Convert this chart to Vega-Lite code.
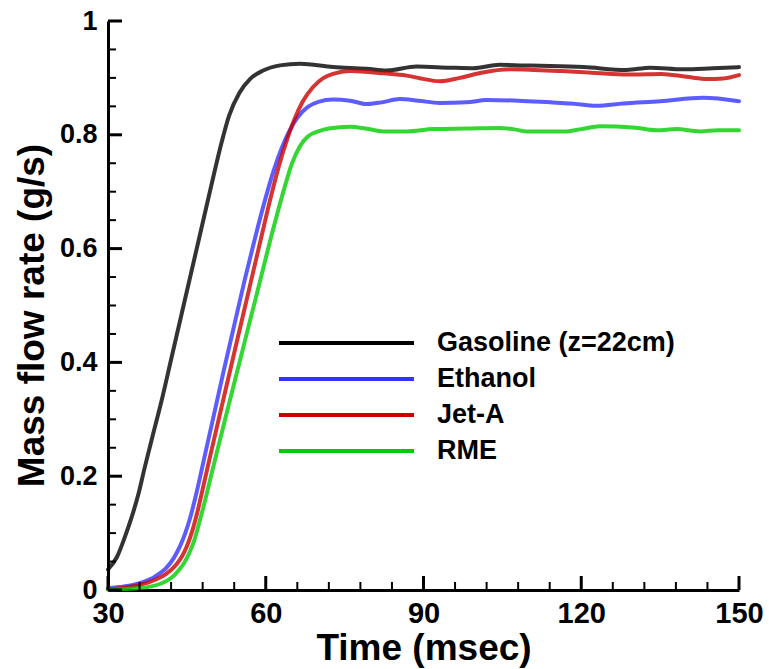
{
  "$schema": "https://vega.github.io/schema/vega-lite/v6.json",
  "width": 631,
  "height": 569,
  "autosize": {"type": "none"},
  "padding": {"left": 108, "top": 21, "right": 30, "bottom": 79},
  "background": "white",
  "config": {
    "view": {"stroke": null},
    "font": "Liberation Sans",
    "axis": {"grid": false, "labelFlush": false, "labelOverlap": false, "labelBound": false}
  },
  "datasets": {
    "flow": [
      {"fuel": "Gasoline (z=22cm)", "time": 30, "rate": 0.036},
      {"fuel": "Gasoline (z=22cm)", "time": 31.7, "rate": 0.058},
      {"fuel": "Gasoline (z=22cm)", "time": 33.2, "rate": 0.093},
      {"fuel": "Gasoline (z=22cm)", "time": 34.5, "rate": 0.128},
      {"fuel": "Gasoline (z=22cm)", "time": 35.8, "rate": 0.169},
      {"fuel": "Gasoline (z=22cm)", "time": 37.0, "rate": 0.216},
      {"fuel": "Gasoline (z=22cm)", "time": 38.6, "rate": 0.275},
      {"fuel": "Gasoline (z=22cm)", "time": 40.2, "rate": 0.333},
      {"fuel": "Gasoline (z=22cm)", "time": 42.0, "rate": 0.405},
      {"fuel": "Gasoline (z=22cm)", "time": 44.0, "rate": 0.485},
      {"fuel": "Gasoline (z=22cm)", "time": 46.0, "rate": 0.565},
      {"fuel": "Gasoline (z=22cm)", "time": 48.0, "rate": 0.645},
      {"fuel": "Gasoline (z=22cm)", "time": 50.0, "rate": 0.725},
      {"fuel": "Gasoline (z=22cm)", "time": 51.5, "rate": 0.783},
      {"fuel": "Gasoline (z=22cm)", "time": 53.0, "rate": 0.833},
      {"fuel": "Gasoline (z=22cm)", "time": 55.0, "rate": 0.874},
      {"fuel": "Gasoline (z=22cm)", "time": 57.0, "rate": 0.898},
      {"fuel": "Gasoline (z=22cm)", "time": 59.5, "rate": 0.913},
      {"fuel": "Gasoline (z=22cm)", "time": 62.7, "rate": 0.922},
      {"fuel": "Gasoline (z=22cm)", "time": 66.5, "rate": 0.925},
      {"fuel": "Gasoline (z=22cm)", "time": 72.8, "rate": 0.919},
      {"fuel": "Gasoline (z=22cm)", "time": 79.2, "rate": 0.916},
      {"fuel": "Gasoline (z=22cm)", "time": 83.0, "rate": 0.913},
      {"fuel": "Gasoline (z=22cm)", "time": 88.7, "rate": 0.920},
      {"fuel": "Gasoline (z=22cm)", "time": 95.0, "rate": 0.918},
      {"fuel": "Gasoline (z=22cm)", "time": 99.4, "rate": 0.917},
      {"fuel": "Gasoline (z=22cm)", "time": 104.5, "rate": 0.923},
      {"fuel": "Gasoline (z=22cm)", "time": 109.0, "rate": 0.922},
      {"fuel": "Gasoline (z=22cm)", "time": 114.1, "rate": 0.921},
      {"fuel": "Gasoline (z=22cm)", "time": 120.4, "rate": 0.919},
      {"fuel": "Gasoline (z=22cm)", "time": 128.6, "rate": 0.914},
      {"fuel": "Gasoline (z=22cm)", "time": 133.1, "rate": 0.918},
      {"fuel": "Gasoline (z=22cm)", "time": 139.4, "rate": 0.915},
      {"fuel": "Gasoline (z=22cm)", "time": 145.0, "rate": 0.917},
      {"fuel": "Gasoline (z=22cm)", "time": 150, "rate": 0.919},

      {"fuel": "Ethanol", "time": 30, "rate": 0.003},
      {"fuel": "Ethanol", "time": 33.0, "rate": 0.006},
      {"fuel": "Ethanol", "time": 36.0, "rate": 0.012},
      {"fuel": "Ethanol", "time": 39.0, "rate": 0.024},
      {"fuel": "Ethanol", "time": 41.0, "rate": 0.038},
      {"fuel": "Ethanol", "time": 42.5, "rate": 0.056},
      {"fuel": "Ethanol", "time": 43.7, "rate": 0.077},
      {"fuel": "Ethanol", "time": 44.7, "rate": 0.100},
      {"fuel": "Ethanol", "time": 45.6, "rate": 0.126},
      {"fuel": "Ethanol", "time": 46.5, "rate": 0.158},
      {"fuel": "Ethanol", "time": 47.4, "rate": 0.194},
      {"fuel": "Ethanol", "time": 48.5, "rate": 0.240},
      {"fuel": "Ethanol", "time": 50.0, "rate": 0.302},
      {"fuel": "Ethanol", "time": 52.0, "rate": 0.385},
      {"fuel": "Ethanol", "time": 54.0, "rate": 0.465},
      {"fuel": "Ethanol", "time": 56.0, "rate": 0.545},
      {"fuel": "Ethanol", "time": 58.0, "rate": 0.620},
      {"fuel": "Ethanol", "time": 60.0, "rate": 0.690},
      {"fuel": "Ethanol", "time": 61.5, "rate": 0.737},
      {"fuel": "Ethanol", "time": 63.0, "rate": 0.776},
      {"fuel": "Ethanol", "time": 64.5, "rate": 0.807},
      {"fuel": "Ethanol", "time": 66.0, "rate": 0.830},
      {"fuel": "Ethanol", "time": 68.0, "rate": 0.849},
      {"fuel": "Ethanol", "time": 70.0, "rate": 0.858},
      {"fuel": "Ethanol", "time": 72.8, "rate": 0.862},
      {"fuel": "Ethanol", "time": 76.0, "rate": 0.860},
      {"fuel": "Ethanol", "time": 79.2, "rate": 0.854},
      {"fuel": "Ethanol", "time": 82.0, "rate": 0.857},
      {"fuel": "Ethanol", "time": 85.5, "rate": 0.863},
      {"fuel": "Ethanol", "time": 89.0, "rate": 0.860},
      {"fuel": "Ethanol", "time": 93.1, "rate": 0.856},
      {"fuel": "Ethanol", "time": 98.2, "rate": 0.857},
      {"fuel": "Ethanol", "time": 102.0, "rate": 0.861},
      {"fuel": "Ethanol", "time": 108.0, "rate": 0.860},
      {"fuel": "Ethanol", "time": 114.1, "rate": 0.857},
      {"fuel": "Ethanol", "time": 118.0, "rate": 0.855},
      {"fuel": "Ethanol", "time": 122.9, "rate": 0.851},
      {"fuel": "Ethanol", "time": 128.0, "rate": 0.855},
      {"fuel": "Ethanol", "time": 135.0, "rate": 0.859},
      {"fuel": "Ethanol", "time": 143.2, "rate": 0.865},
      {"fuel": "Ethanol", "time": 150, "rate": 0.859},

      {"fuel": "Jet-A", "time": 30, "rate": 0.001},
      {"fuel": "Jet-A", "time": 33.0, "rate": 0.004},
      {"fuel": "Jet-A", "time": 36.0, "rate": 0.009},
      {"fuel": "Jet-A", "time": 39.0, "rate": 0.018},
      {"fuel": "Jet-A", "time": 41.0, "rate": 0.028},
      {"fuel": "Jet-A", "time": 43.0, "rate": 0.045},
      {"fuel": "Jet-A", "time": 44.0, "rate": 0.058},
      {"fuel": "Jet-A", "time": 45.0, "rate": 0.077},
      {"fuel": "Jet-A", "time": 46.0, "rate": 0.103},
      {"fuel": "Jet-A", "time": 47.0, "rate": 0.137},
      {"fuel": "Jet-A", "time": 48.0, "rate": 0.177},
      {"fuel": "Jet-A", "time": 49.0, "rate": 0.218},
      {"fuel": "Jet-A", "time": 51.0, "rate": 0.298},
      {"fuel": "Jet-A", "time": 53.0, "rate": 0.377},
      {"fuel": "Jet-A", "time": 55.0, "rate": 0.456},
      {"fuel": "Jet-A", "time": 57.0, "rate": 0.535},
      {"fuel": "Jet-A", "time": 59.0, "rate": 0.614},
      {"fuel": "Jet-A", "time": 61.0, "rate": 0.692},
      {"fuel": "Jet-A", "time": 62.5, "rate": 0.745},
      {"fuel": "Jet-A", "time": 64.0, "rate": 0.790},
      {"fuel": "Jet-A", "time": 65.5, "rate": 0.828},
      {"fuel": "Jet-A", "time": 67.0, "rate": 0.858},
      {"fuel": "Jet-A", "time": 69.0, "rate": 0.884},
      {"fuel": "Jet-A", "time": 71.0, "rate": 0.900},
      {"fuel": "Jet-A", "time": 72.8, "rate": 0.907},
      {"fuel": "Jet-A", "time": 76.0, "rate": 0.912},
      {"fuel": "Jet-A", "time": 82.4, "rate": 0.908},
      {"fuel": "Jet-A", "time": 86.8, "rate": 0.904},
      {"fuel": "Jet-A", "time": 89.5, "rate": 0.899},
      {"fuel": "Jet-A", "time": 93.1, "rate": 0.894},
      {"fuel": "Jet-A", "time": 96.9, "rate": 0.900},
      {"fuel": "Jet-A", "time": 101.0, "rate": 0.909},
      {"fuel": "Jet-A", "time": 106.5, "rate": 0.915},
      {"fuel": "Jet-A", "time": 111.0, "rate": 0.914},
      {"fuel": "Jet-A", "time": 116.2, "rate": 0.912},
      {"fuel": "Jet-A", "time": 120.5, "rate": 0.910},
      {"fuel": "Jet-A", "time": 125.7, "rate": 0.907},
      {"fuel": "Jet-A", "time": 130.0, "rate": 0.906},
      {"fuel": "Jet-A", "time": 135.2, "rate": 0.907},
      {"fuel": "Jet-A", "time": 140.0, "rate": 0.902},
      {"fuel": "Jet-A", "time": 144.1, "rate": 0.898},
      {"fuel": "Jet-A", "time": 147.0, "rate": 0.899},
      {"fuel": "Jet-A", "time": 150, "rate": 0.905},

      {"fuel": "RME", "time": 30, "rate": 0.001},
      {"fuel": "RME", "time": 34.0, "rate": 0.002},
      {"fuel": "RME", "time": 38.0, "rate": 0.006},
      {"fuel": "RME", "time": 40.0, "rate": 0.011},
      {"fuel": "RME", "time": 42.0, "rate": 0.021},
      {"fuel": "RME", "time": 43.5, "rate": 0.035},
      {"fuel": "RME", "time": 44.5, "rate": 0.048},
      {"fuel": "RME", "time": 45.5, "rate": 0.066},
      {"fuel": "RME", "time": 46.5, "rate": 0.090},
      {"fuel": "RME", "time": 47.4, "rate": 0.120},
      {"fuel": "RME", "time": 48.4, "rate": 0.155},
      {"fuel": "RME", "time": 49.5, "rate": 0.197},
      {"fuel": "RME", "time": 51.0, "rate": 0.253},
      {"fuel": "RME", "time": 53.0, "rate": 0.327},
      {"fuel": "RME", "time": 55.0, "rate": 0.400},
      {"fuel": "RME", "time": 57.0, "rate": 0.473},
      {"fuel": "RME", "time": 59.0, "rate": 0.546},
      {"fuel": "RME", "time": 61.0, "rate": 0.620},
      {"fuel": "RME", "time": 62.5, "rate": 0.672},
      {"fuel": "RME", "time": 63.5, "rate": 0.705},
      {"fuel": "RME", "time": 65.0, "rate": 0.750},
      {"fuel": "RME", "time": 66.5, "rate": 0.780},
      {"fuel": "RME", "time": 68.0, "rate": 0.797},
      {"fuel": "RME", "time": 70.0, "rate": 0.806},
      {"fuel": "RME", "time": 72.0, "rate": 0.811},
      {"fuel": "RME", "time": 76.0, "rate": 0.814},
      {"fuel": "RME", "time": 79.0, "rate": 0.811},
      {"fuel": "RME", "time": 82.4, "rate": 0.806},
      {"fuel": "RME", "time": 86.8, "rate": 0.806},
      {"fuel": "RME", "time": 91.9, "rate": 0.810},
      {"fuel": "RME", "time": 98.2, "rate": 0.811},
      {"fuel": "RME", "time": 104.5, "rate": 0.812},
      {"fuel": "RME", "time": 107.0, "rate": 0.810},
      {"fuel": "RME", "time": 109.6, "rate": 0.806},
      {"fuel": "RME", "time": 117.2, "rate": 0.806},
      {"fuel": "RME", "time": 120.0, "rate": 0.810},
      {"fuel": "RME", "time": 123.6, "rate": 0.815},
      {"fuel": "RME", "time": 129.9, "rate": 0.813},
      {"fuel": "RME", "time": 134.3, "rate": 0.808},
      {"fuel": "RME", "time": 138.1, "rate": 0.810},
      {"fuel": "RME", "time": 142.6, "rate": 0.806},
      {"fuel": "RME", "time": 146.0, "rate": 0.808},
      {"fuel": "RME", "time": 150, "rate": 0.808}
    ],
    "timeTicks": [
      {"time": 30, "major": true}, {"time": 36, "major": false}, {"time": 42, "major": false},
      {"time": 48, "major": false}, {"time": 54, "major": false}, {"time": 60, "major": true},
      {"time": 66, "major": false}, {"time": 72, "major": false}, {"time": 78, "major": false},
      {"time": 84, "major": false}, {"time": 90, "major": true}, {"time": 96, "major": false},
      {"time": 102, "major": false}, {"time": 108, "major": false}, {"time": 114, "major": false},
      {"time": 120, "major": true}, {"time": 126, "major": false}, {"time": 132, "major": false},
      {"time": 138, "major": false}, {"time": 144, "major": false}, {"time": 150, "major": true}
    ],
    "rateTicks": [
      {"rate": 0, "major": true}, {"rate": 0.05, "major": false}, {"rate": 0.1, "major": false},
      {"rate": 0.15, "major": false}, {"rate": 0.2, "major": true}, {"rate": 0.25, "major": false},
      {"rate": 0.3, "major": false}, {"rate": 0.35, "major": false}, {"rate": 0.4, "major": true},
      {"rate": 0.45, "major": false}, {"rate": 0.5, "major": false}, {"rate": 0.55, "major": false},
      {"rate": 0.6, "major": true}, {"rate": 0.65, "major": false}, {"rate": 0.7, "major": false},
      {"rate": 0.75, "major": false}, {"rate": 0.8, "major": true}, {"rate": 0.85, "major": false},
      {"rate": 0.9, "major": false}, {"rate": 0.95, "major": false}, {"rate": 1, "major": true}
    ]
  },
  "encoding": {
    "x": {
      "type": "quantitative",
      "scale": {"domain": [30, 150], "nice": false, "zero": false},
      "axis": {
        "orient": "bottom", "title": "Time (msec)",
        "values": [30, 60, 90, 120, 150], "format": "d", "ticks": false,
        "domainColor": "black", "domainWidth": 3,
        "labelFontSize": 29, "labelFontWeight": "bold", "labelColor": "black", "labelPadding": 9,
        "titleFontSize": 37, "titleFontWeight": "bold", "titleColor": "black",
        "titleBaseline": "alphabetic", "titleY": 69
      }
    },
    "y": {
      "type": "quantitative",
      "scale": {"domain": [0, 1], "nice": false, "zero": false},
      "axis": {
        "orient": "left", "title": "Mass flow rate (g/s)",
        "values": [0, 0.2, 0.4, 0.6, 0.8, 1], "format": "~g", "ticks": false,
        "domainColor": "black", "domainWidth": 3,
        "labelFontSize": 27, "labelFontWeight": "bold", "labelColor": "black", "labelPadding": 11,
        "titleFontSize": 37, "titleFontWeight": "bold", "titleColor": "black",
        "titleAngle": 270, "titleBaseline": "alphabetic", "titleX": -65, "titleY": 294
      }
    }
  },
  "layer": [
    {
      "data": {"name": "flow"},
      "mark": {"type": "line", "strokeWidth": 4, "opacity": 0.8, "interpolate": "monotone", "strokeCap": "round"},
      "encoding": {
        "x": {"field": "time"},
        "y": {"field": "rate"},
        "color": {
          "field": "fuel", "type": "nominal",
          "scale": {
            "domain": ["Gasoline (z=22cm)", "Ethanol", "Jet-A", "RME"],
            "range": ["#000000", "#3333ff", "#cc0000", "#00cc00"]
          },
          "legend": {
            "orient": "none", "legendX": 169, "legendY": 307, "title": null, "padding": 0,
            "symbolType": "stroke", "symbolSize": 18225, "symbolStrokeWidth": 4, "symbolOpacity": 1,
            "clipHeight": 30, "rowPadding": 6,
            "labelFontSize": 27, "labelFontWeight": "bold", "labelColor": "black",
            "labelOffset": 21, "labelLimit": 400
          }
        }
      }
    },
    {
      "description": "Long inward ticks on the time axis",
      "data": {"name": "timeTicks"},
      "transform": [{"filter": "datum.major"}],
      "mark": {"type": "tick", "orient": "vertical", "size": 14, "thickness": 3, "yOffset": -7, "color": "black", "opacity": 1},
      "encoding": {"x": {"field": "time"}, "y": {"datum": 0}}
    },
    {
      "description": "Short inward ticks on the time axis",
      "data": {"name": "timeTicks"},
      "transform": [{"filter": "!datum.major"}],
      "mark": {"type": "tick", "orient": "vertical", "size": 8, "thickness": 2, "yOffset": -4, "color": "black", "opacity": 1},
      "encoding": {"x": {"field": "time"}, "y": {"datum": 0}}
    },
    {
      "description": "Long inward ticks on the rate axis",
      "data": {"name": "rateTicks"},
      "transform": [{"filter": "datum.major"}],
      "mark": {"type": "tick", "orient": "horizontal", "size": 14, "thickness": 3, "xOffset": 7, "color": "black", "opacity": 1},
      "encoding": {"y": {"field": "rate"}, "x": {"datum": 30}}
    },
    {
      "description": "Short inward ticks on the rate axis",
      "data": {"name": "rateTicks"},
      "transform": [{"filter": "!datum.major"}],
      "mark": {"type": "tick", "orient": "horizontal", "size": 8, "thickness": 2, "xOffset": 4, "color": "black", "opacity": 1},
      "encoding": {"y": {"field": "rate"}, "x": {"datum": 30}}
    }
  ]
}
